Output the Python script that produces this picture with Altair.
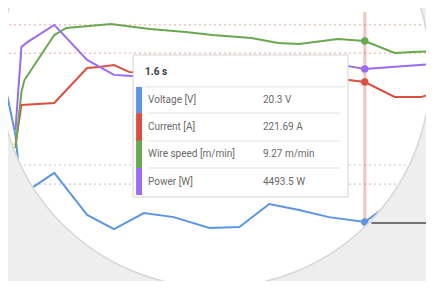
import altair as alt
import pandas as pd

# ---- data: time (s) and plotted level (% of plot height)
series_names = ["Voltage [V]", "Current [A]", "Wire speed [m/min]", "Power [W]"]
series_colors = ["#5b95e5", "#d9503f", "#6aa84f", "#9b6bf2"]

voltage_t = [0.39, 0.43, 0.45, 0.50, 0.56, 0.67, 0.76, 0.86, 0.96, 1.08, 1.18, 1.28, 1.38, 1.48, 1.60, 1.70, 1.80]
voltage_v = [74.4, 53.5, 31.5, 35.2, 39.6, 24.2, 19.0, 24.9, 23.4, 19.4, 19.8, 28.2, 26.0, 23.4, 21.6, 29.7, 30.4]
current_t = [0.43, 0.45, 0.56, 0.67, 0.71, 0.76, 0.81, 0.91, 1.02, 1.12, 1.22, 1.32, 1.42, 1.52, 1.60, 1.70, 1.79, 1.83]
current_v = [49.8, 64.5, 65.2, 78.0, 78.4, 79.1, 76.6, 75.5, 76.6, 75.8, 74.4, 73.6, 74.4, 74.0, 72.9, 67.4, 67.4, 68.9]
wire_t = [0.43, 0.45, 0.46, 0.56, 0.60, 0.75, 0.88, 1.00, 1.09, 1.22, 1.31, 1.38, 1.51, 1.60, 1.70, 1.76, 1.83]
wire_v = [48.7, 69.2, 73.6, 90.1, 92.7, 94.1, 92.3, 91.2, 90.1, 89.0, 87.2, 86.8, 88.6, 87.9, 83.5, 83.9, 84.2]
power_t = [0.43, 0.45, 0.47, 0.56, 0.67, 0.76, 0.82, 0.95, 1.08, 1.22, 1.35, 1.48, 1.54, 1.60, 1.83]
power_v = [55.3, 85.7, 87.5, 93.8, 81.0, 75.5, 75.1, 75.8, 76.6, 77.3, 78.0, 78.8, 78.8, 77.7, 79.5]

# hovered sample
hover_t = 1.6
hover_title = "1.6 s"
hover_values = ["20.3 V", "221.69 A", "9.27 m/min", "4493.5 W"]

# limit lines (plot level %)
limit_levels = [93.8, 83.5, 42.5, 35.5]
limit_colors = ["#eaa49a", "#eaa49a", "#b4bccd", "#b4bccd"]

# ---- layout (in data units of the shared scales)
T_DOMAIN = [0.405, 1.805]
V_DOMAIN = [0, 100]
BG = "#eeeeee"
lens_t, lens_v, lens_r = 1.098, 76.6, 215
tip_t0, tip_t1, tip_v0, tip_v1 = 0.824, 1.544, 30.8, 82.8
bar_t0, bar_t1 = 0.834, 0.854
label_t, value_t, title_t = 0.874, 1.259, 0.864
title_v, head_v = 76.6, 71.1
row_v = [66.3, 56.4, 46.5, 36.3]
row_edges = [71.1, 61.5, 51.3, 41.4, 31.5]
sep_t0, sep_t1 = 0.874, 1.517
rule_v0, rule_v1 = 98.5, 19.4
callout_t0, callout_v = 1.622, 21.2

X = lambda f="t": alt.X(f, type="quantitative", scale=alt.Scale(domain=T_DOMAIN, nice=False, zero=False), axis=None)
Y = lambda f="v": alt.Y(f, type="quantitative", scale=alt.Scale(domain=V_DOMAIN, nice=False, zero=False), axis=None)

rows = []
for name, ts, vs in zip(series_names, [voltage_t, current_t, wire_t, power_t],
                        [voltage_v, current_v, wire_v, power_v]):
    rows += [{"series": name, "t": t, "v": v} for t, v in zip(ts, vs)]
lines_df = pd.DataFrame(rows)
color = alt.Color("series:N", scale=alt.Scale(domain=series_names, range=series_colors), legend=None)

lens_df = pd.DataFrame({"t": [lens_t], "v": [lens_v]})
lens = alt.Chart(lens_df).mark_point(shape="circle", filled=True, color="white", opacity=1,
                                     size=(2 * lens_r) ** 2).encode(x=X(), y=Y())

limit_marks = []
for lv, lc in zip(limit_levels, limit_colors):
    limit_marks.append(alt.Chart(pd.DataFrame({"v": [lv]})).mark_rule(
        strokeDash=[2, 3], strokeWidth=1.2, opacity=0.8, color=lc).encode(y=Y()))

lines = alt.Chart(lines_df).mark_line(strokeWidth=2, clip=True).encode(x=X(), y=Y(), color=color, detail="series:N")

rule_df = pd.DataFrame({"t": [hover_t], "v": [rule_v0], "v2": [rule_v1]})
vrule = alt.Chart(rule_df).mark_rule(color="#d9503f", opacity=0.35, strokeWidth=3).encode(
    x=X(), y=Y(), y2="v2")

dots_df = pd.DataFrame({"series": series_names, "t": [hover_t] * 4,
                        "v": [vs[ts.index(hover_t)] for ts, vs in zip(
                            [voltage_t, current_t, wire_t, power_t],
                            [voltage_v, current_v, wire_v, power_v])]})
dots = alt.Chart(dots_df).mark_circle(size=55, opacity=1).encode(x=X(), y=Y(), color=color)

box_df = pd.DataFrame({"t": [tip_t0], "t2": [tip_t1], "v": [tip_v0], "v2": [tip_v1]})
shadow = alt.Chart(box_df).mark_rect(color="#000000", opacity=0.06, stroke="#000000", strokeWidth=4,
                                     strokeOpacity=0.05).encode(x=X(), x2="t2", y=Y(), y2="v2")
box = alt.Chart(box_df).mark_rect(fill="white", stroke="#d4d4d4", strokeWidth=1).encode(
    x=X(), x2="t2", y=Y(), y2="v2")

bars_df = pd.DataFrame({"series": series_names, "t": [bar_t0] * 4, "t2": [bar_t1] * 4,
                        "v": row_edges[:-1], "v2": row_edges[1:]})
bars = alt.Chart(bars_df).mark_rect().encode(x=X(), x2="t2", y=Y(), y2="v2", color=color)

seps_df = pd.DataFrame({"t": [title_t] + [sep_t0] * 3, "t2": [sep_t1 + 0.02] + [sep_t1] * 3,
                        "v": [head_v] + row_edges[1:4]})
seps = alt.Chart(seps_df).mark_rule(color="#e2e2e2", strokeWidth=1).encode(x=X(), x2="t2", y=Y())

title_df = pd.DataFrame({"t": [title_t], "v": [title_v], "txt": [hover_title]})
title = alt.Chart(title_df).mark_text(align="left", baseline="middle", font="Roboto", fontSize=10,
                                      fontWeight="bold", color="#3a3a3a").encode(x=X(), y=Y(), text="txt:N")

lab_df = pd.DataFrame({"t": [label_t] * 4, "v": row_v, "txt": series_names})
labels = alt.Chart(lab_df).mark_text(align="left", baseline="middle", font="Roboto", fontSize=10,
                                     color="#6a6a6a").encode(x=X(), y=Y(), text="txt:N")
val_df = pd.DataFrame({"t": [value_t] * 4, "v": row_v, "txt": hover_values})
values = alt.Chart(val_df).mark_text(align="left", baseline="middle", font="Roboto", fontSize=10,
                                     color="#6a6a6a").encode(x=X(), y=Y(), text="txt:N")

mask_w = 240
mask = alt.Chart(lens_df).mark_point(shape="circle", filled=False, color=BG, opacity=1,
                                     strokeWidth=mask_w,
                                     size=(2 * lens_r + mask_w) ** 2).encode(x=X(), y=Y())
rim = alt.Chart(lens_df).mark_point(shape="circle", filled=False, color="#d6d6d6", opacity=0.9,
                                    strokeWidth=1.5, size=(2 * lens_r + 1) ** 2).encode(x=X(), y=Y())

call_df = pd.DataFrame({"t": [callout_t0], "t2": [T_DOMAIN[1]], "v": [callout_v]})
callout = alt.Chart(call_df).mark_rule(color="#4a4a4a", strokeWidth=1.5).encode(x=X(), x2="t2", y=Y())

chart = alt.layer(lens, *limit_marks, lines, vrule, dots, shadow, box, bars, seps, title, labels, values,
                  mask, rim, callout).properties(
    width=418, height=273, padding=0, background=BG,
    autosize=alt.AutoSizeParams(type="none")
).configure_view(stroke=None)

chart.save("out.html", embed_options={"renderer": "svg", "actions": False})
